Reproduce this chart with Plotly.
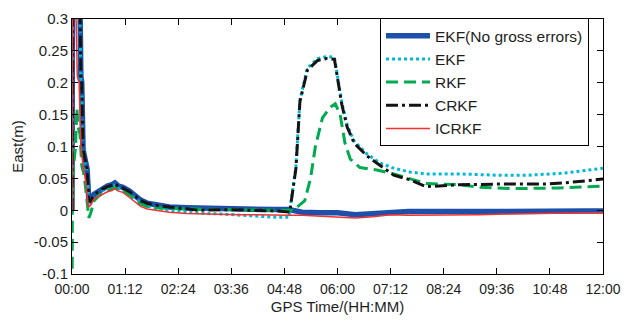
import plotly.graph_objects as go

# ---------------- data (time in hours, East error in metres) ----------------
t_ekf_ng = [0, 0.01, 0.1, 0.18, 0.2, 0.22, 0.25, 0.3, 0.34, 0.38, 0.42, 0.5, 0.6, 0.7, 0.8, 0.9, 0.97,
            1.05, 1.15, 1.3, 1.45, 1.55, 1.7, 1.9, 2.2, 2.6, 3.0, 3.4, 3.8, 4.2, 4.6, 4.9, 5.2, 5.6,
            6.0, 6.4, 6.8, 7.2, 7.6, 8.0, 8.6, 9.2, 9.8, 10.4, 11.0, 11.6, 12.0]
y_ekf_ng = [0.0, 0.36, 0.36, 0.33, 0.21, 0.2, 0.095, 0.075, 0.065, 0.016, 0.015, 0.025, 0.03, 0.035,
            0.038, 0.04, 0.043, 0.038, 0.036, 0.03, 0.022, 0.016, 0.011, 0.008, 0.005, 0.004, 0.003,
            0.002, 0.003, 0.002, 0.001, 0.001, -0.003, -0.004, -0.004, -0.007, -0.005, -0.002, -0.002,
            -0.002, -0.003, -0.002, -0.002, -0.001, -0.001, -0.001, -0.001]

t_ekf = [0, 0.01, 0.1, 0.18, 0.2, 0.22, 0.25, 0.3, 0.34, 0.38, 0.42, 0.5, 0.6, 0.7, 0.8, 0.9, 0.97,
         1.05, 1.15, 1.3, 1.45, 1.55, 1.7, 1.9, 2.2, 2.6, 3.0, 3.4, 3.8, 4.2, 4.6, 4.9, 5.06, 5.15,
         5.32, 5.55, 5.75, 5.93, 6.0, 6.1, 6.22, 6.38, 6.67, 6.96, 7.27, 7.63, 8.0, 8.75, 9.6, 10.3,
         11.1, 11.8, 12.0]
y_ekf = [0.0, 0.35, 0.35, 0.32, 0.2, 0.19, 0.09, 0.07, 0.06, 0.012, 0.011, 0.021, 0.026, 0.031,
         0.034, 0.036, 0.039, 0.034, 0.032, 0.026, 0.018, 0.012, 0.007, 0.003, 0.0, -0.003, -0.005,
         -0.006, -0.008, -0.009, -0.011, -0.011, 0.068, 0.173, 0.223, 0.238, 0.241, 0.24, 0.208,
         0.168, 0.133, 0.108, 0.088, 0.074, 0.066, 0.06, 0.057, 0.057, 0.055, 0.055, 0.058, 0.064,
         0.066]

t_rkf = [0, 0.005, 0.01, 0.08, 0.11, 0.14, 0.18, 0.22, 0.26, 0.3, 0.38, 0.42, 0.5, 0.6, 0.7, 0.8,
         0.9, 0.97, 1.05, 1.15, 1.3, 1.45, 1.55, 1.7, 1.9, 2.2, 2.6, 3.0, 3.4, 3.8, 4.2, 4.6, 5.0,
         5.26, 5.39, 5.5, 5.66, 5.84, 5.95, 6.06, 6.17, 6.29, 6.51, 6.89, 7.27, 7.72, 8.0, 8.75, 9.2,
         10.0, 11.0, 12.0]
y_rkf = [-0.12, -0.1, 0.05, 0.1, 0.16, 0.13, 0.12, 0.07, 0.06, 0.04, -0.012, -0.005, 0.015, 0.022,
         0.027, 0.03, 0.033, 0.036, 0.031, 0.03, 0.024, 0.016, 0.01, 0.006, 0.004, 0.003, 0.002,
         0.002, 0.001, 0.001, 0.0, 0.0, 0.0, 0.015, 0.05, 0.1, 0.145, 0.162, 0.167, 0.15, 0.105,
         0.08, 0.067, 0.063, 0.057, 0.048, 0.042, 0.04, 0.036, 0.034, 0.035, 0.038]

t_crkf = [0, 0.01, 0.1, 0.18, 0.2, 0.22, 0.25, 0.3, 0.34, 0.38, 0.42, 0.5, 0.6, 0.7, 0.8, 0.9, 0.97,
          1.05, 1.15, 1.3, 1.45, 1.52, 1.7, 1.86, 2.2, 2.6, 2.86, 3.4, 3.8, 4.2, 4.6, 4.92, 5.06,
          5.15, 5.32, 5.55, 5.75, 5.93, 6.0, 6.1, 6.22, 6.38, 6.67, 6.96, 7.27, 7.63, 8.0, 8.75, 9.6,
          10.7, 11.3, 12.0]
y_crkf = [0.0, 0.35, 0.35, 0.33, 0.21, 0.2, 0.095, 0.075, 0.065, 0.015, 0.014, 0.024, 0.029, 0.034,
          0.037, 0.039, 0.042, 0.037, 0.035, 0.029, 0.021, 0.016, 0.011, 0.008, 0.005, 0.002, 0.0,
          0.001, 0.0, 0.0, -0.001, -0.003, 0.065, 0.17, 0.22, 0.235, 0.238, 0.237, 0.205, 0.165,
          0.13, 0.105, 0.085, 0.07, 0.055, 0.048, 0.037, 0.04, 0.041, 0.041, 0.044, 0.049]

t_icrkf = [0, 0.01, 0.08, 0.12, 0.16, 0.2, 0.25, 0.3, 0.37, 0.42, 0.5, 0.6, 0.7, 0.8, 0.9, 0.97,
           1.05, 1.15, 1.3, 1.45, 1.55, 1.7, 1.9, 2.2, 2.6, 3.0, 3.4, 3.8, 4.2, 4.6, 4.9, 5.2, 5.6,
           6.0, 6.4, 6.8, 7.2, 7.6, 8.0, 8.6, 9.2, 9.8, 10.4, 11.0, 11.6, 12.0]
y_icrkf = [0.0, 0.34, 0.34, 0.21, 0.2, 0.1, 0.07, 0.05, 0.005, 0.008, 0.018, 0.022, 0.026, 0.029,
           0.031, 0.034, 0.03, 0.028, 0.02, 0.012, 0.006, 0.002, 0.0, -0.003, -0.005, -0.006,
           -0.006, -0.007, -0.007, -0.008, -0.008, -0.008, -0.009, -0.011, -0.012, -0.01, -0.007,
           -0.008, -0.008, -0.008, -0.007, -0.006, -0.005, -0.005, -0.004, -0.004]

x_tick_vals = [0, 1.2, 2.4, 3.6, 4.8, 6.0, 7.2, 8.4, 9.6, 10.8, 12.0]
x_tick_text = ["00:00", "01:12", "02:24", "03:36", "04:48", "06:00", "07:12", "08:24", "09:36",
               "10:48", "12:00"]
y_tick_vals = [-0.1, -0.05, 0, 0.05, 0.1, 0.15, 0.2, 0.25, 0.3]
y_tick_text = ["-0.1", "-0.05", "0", "0.05", "0.1", "0.15", "0.2", "0.25", "0.3"]

names = ["EKF(No gross errors)", "EKF", "RKF", "CRKF", "ICRKF"]

# ---------------- figure ----------------
fig = go.Figure()
series = [
    (t_ekf_ng, y_ekf_ng, names[0], dict(color="rgb(30,80,170)", width=5.5, dash="solid")),
    (t_ekf, y_ekf, names[1], dict(color="rgb(0,185,215)", width=3, dash="3px,3px")),
    (t_rkf, y_rkf, names[2], dict(color="rgb(0,170,80)", width=3, dash="12px,6px")),
    (t_crkf, y_crkf, names[3], dict(color="rgb(20,20,20)", width=3, dash="12px,4px,3px,4px")),
    (t_icrkf, y_icrkf, names[4], dict(color="rgb(240,50,50)", width=1.5, dash="solid")),
]
for tx, ty, nm, ln in series:
    fig.add_trace(go.Scatter(x=tx, y=ty, name=nm, mode="lines", line=ln))

font_family = "Liberation Sans, Arial, sans-serif"
fig.update_layout(
    width=631, height=322,
    margin=dict(l=72, r=23, t=10, b=45),
    paper_bgcolor="white", plot_bgcolor="white",
    font=dict(family=font_family, color="rgb(30,30,30)"),
    showlegend=True,
    legend=dict(x=0.58, y=1.003, xanchor="left", yanchor="top",
                bgcolor="white", bordercolor="black", borderwidth=1, itemwidth=44,
                font=dict(size=15.5, family=font_family), tracegroupgap=0),
)
fig.update_xaxes(
    range=[0, 12], tickvals=x_tick_vals, ticktext=x_tick_text,
    ticks="inside", ticklen=6, tickcolor="black", showline=True, linecolor="black", linewidth=1,
    mirror="ticks", showgrid=False, zeroline=False, tickfont=dict(size=14), ticklabelstandoff=2,
    title=dict(text="GPS Time/(HH:MM)", font=dict(size=15), standoff=5),
)
fig.update_yaxes(
    range=[-0.1, 0.3], tickvals=y_tick_vals, ticktext=y_tick_text,
    ticks="inside", ticklen=6, tickcolor="black", showline=True, linecolor="black", linewidth=1,
    mirror="ticks", showgrid=False, zeroline=False, tickfont=dict(size=15),
    title=dict(text="East(m)", font=dict(size=15), standoff=6),
)

fig.write_html("out.html")
